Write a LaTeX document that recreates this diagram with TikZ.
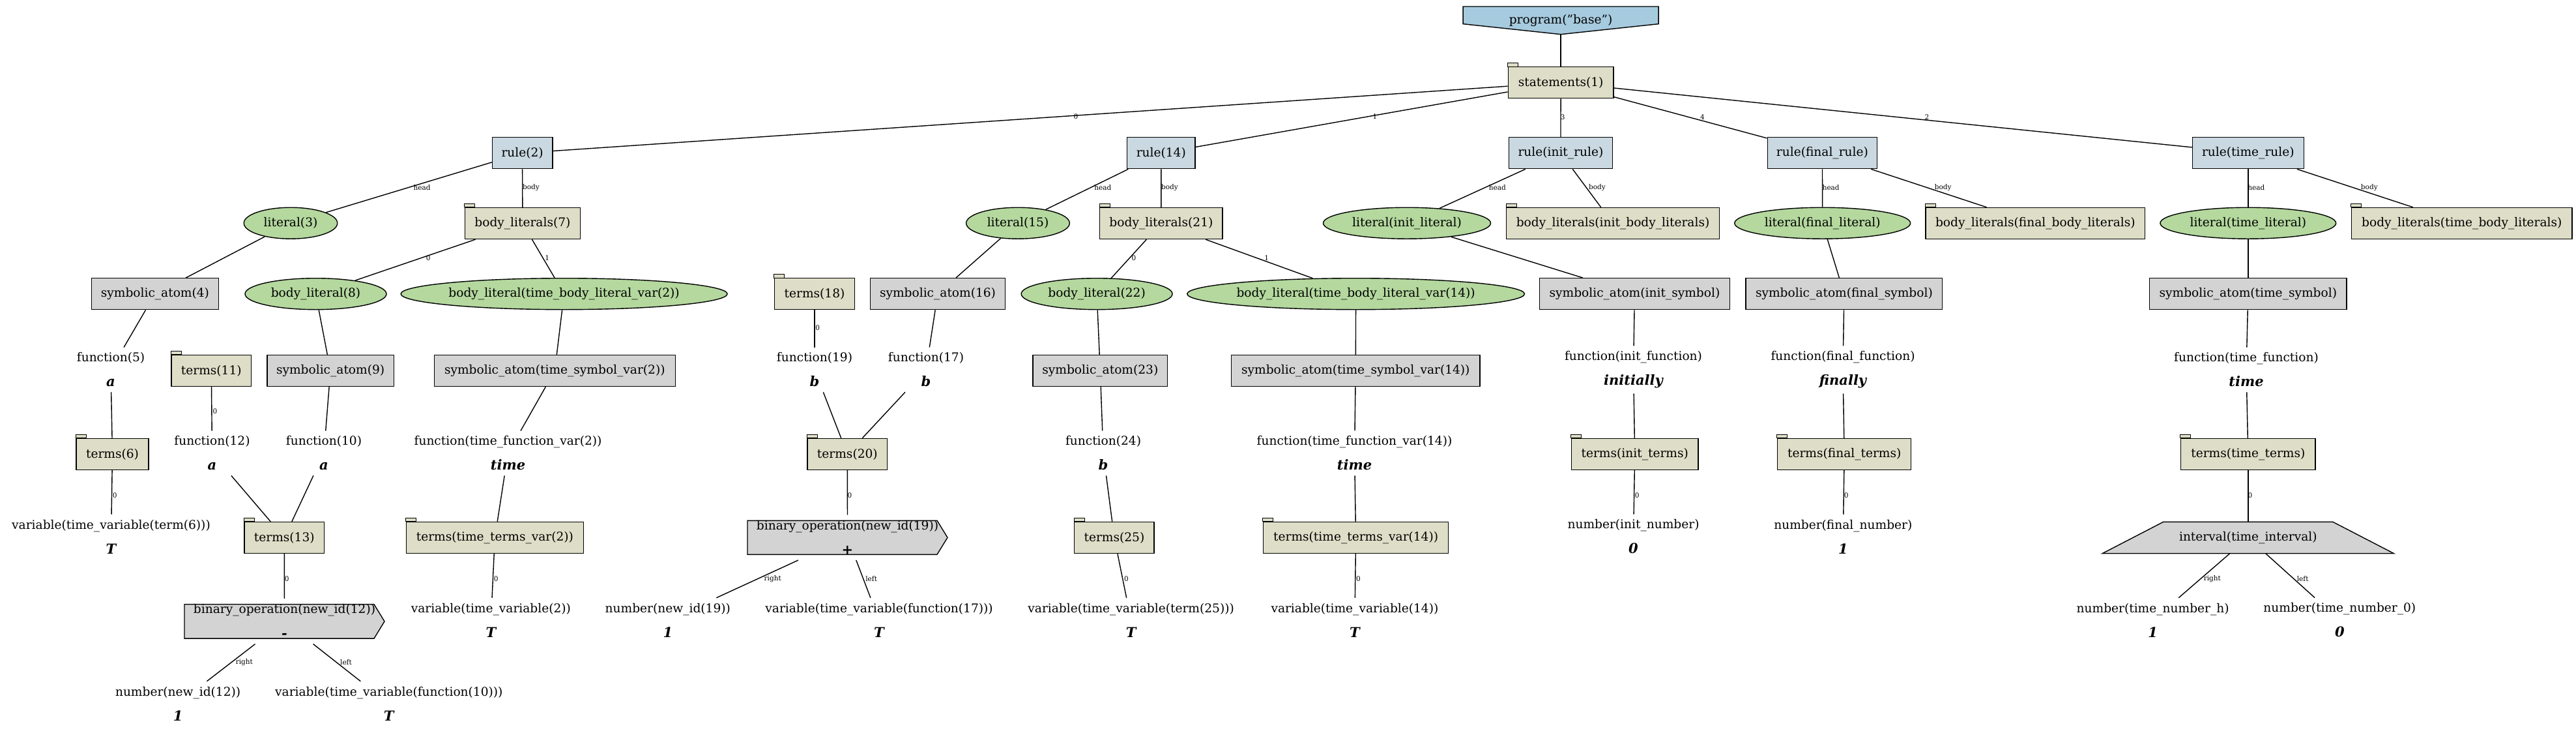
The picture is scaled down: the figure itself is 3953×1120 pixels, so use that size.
\documentclass[tikz,border=0pt]{standalone}
\usepackage{fontspec}
\setmainfont{DejaVu Serif}
\usetikzlibrary{shapes.geometric}
\definecolor{rulec}{RGB}{201,216,225}
\definecolor{litc}{RGB}{180,216,158}
\definecolor{tabc}{RGB}{222,222,200}
\definecolor{atomc}{RGB}{211,211,211}
\definecolor{progc}{RGB}{166,202,222}
\newcommand\bv[1]{{\fontsize{21}{38}\selectfont\bfseries\itshape #1}}
\tikzset{
  every node/.style={font=\fontsize{18.6}{22}\selectfont},
  box/.style={rectangle, draw, line width=1.4pt, minimum height=48pt, inner sep=0pt},
  rulebox/.style={box, fill=rulec},
  tabbox/.style={box, fill=tabc},
  atombox/.style={box, fill=atomc},
  litell/.style={ellipse, draw, line width=1.4pt, fill=litc, minimum height=48pt, inner sep=0pt},
  plain/.style={align=center, inner xsep=2pt, inner ysep=8pt, font=\fontsize{18.6}{38}\selectfont},
  lbl/.style={font=\fontsize{10.5}{12}\selectfont, inner sep=0pt},
  conn/.style={line width=1.4pt},
  shapeline/.style={line width=1.4pt},
  tabline/.style={line width=1pt, fill=tabc},
}
\begin{document}
\begin{tikzpicture}[x=1pt,y=-1pt]
\fill[white] (0,0) rectangle (3953,1120);
\useasboundingbox (0,0) rectangle (3953,1120);

% special shapes drawn first
\coordinate (progc) at (2395.1,31.35);
\draw[shapeline, fill=progc, shift={(progc)}] (-150,-21.35) -- (150,-21.35) -- (150,5.35) -- (0,21.35) -- (-150,5.35) -- cycle;
\coordinate (b12c) at (436.5,952.9);
\draw[shapeline, fill=atomc, shift={(b12c)}] (-153.5,-26.2) -- (137.5,-26.2) -- (153.5,0) -- (137.5,26.2) -- (-153.5,26.2) -- cycle;
\coordinate (b19c) at (1300.5,824.3);
\draw[shapeline, fill=atomc, shift={(b19c)}] (-153.5,-26) -- (137.5,-26) -- (153.5,0) -- (137.5,26) -- (-153.5,26) -- cycle;
\coordinate (intvc) at (3449.8,824.5);
\draw[shapeline, fill=atomc, shift={(intvc)}] (-130,-24.2) -- (130,-24.2) -- (223.6,24.2) -- (-223.6,24.2) -- cycle;

% nodes
\node[inner sep=0pt, minimum width=300pt, minimum height=42.7pt] (prog) at (progc) {program("base")};
\node[tabbox, minimum width=161.6pt] (st1) at (2395.1,126.7) {statements(1)};

\node[rulebox, minimum width=92.4pt] (rule2) at (801.6,234.7) {rule(2)};
\node[rulebox, minimum width=104.5pt] (rule14) at (1781.8,234.7) {rule(14)};
\node[rulebox, minimum width=159.2pt] (ruleinit) at (2394.9,234.7) {rule(init\_rule)};
\node[rulebox, minimum width=168.4pt] (rulefinal) at (2796.4,234.7) {rule(final\_rule)};
\node[rulebox, minimum width=170.8pt] (ruletime) at (3449.8,234.7) {rule(time\_rule)};

\node[litell, minimum width=143.5pt] (lit3) at (446,342.2) {literal(3)};
\node[tabbox, minimum width=176.8pt] (bl7) at (801.9,342.5) {body\_literals(7)};
\node[litell, minimum width=158.7pt] (lit15) at (1562,342.2) {literal(15)};
\node[tabbox, minimum width=188.3pt] (bl21) at (1781.9,342.5) {body\_literals(21)};
\node[litell, minimum width=257pt] (litinit) at (2159,342.2) {literal(init\_literal)};
\node[tabbox, minimum width=326.5pt] (blinit) at (2475,342.5) {body\_literals(init\_body\_literals)};
\node[litell, minimum width=269.9pt] (litfinal) at (2796.7,342.2) {literal(final\_literal)};
\node[tabbox, minimum width=336.4pt] (blfinal) at (3123.3,342.5) {body\_literals(final\_body\_literals)};
\node[litell, minimum width=269.8pt] (littime) at (3449.8,342.2) {literal(time\_literal)};
\node[tabbox, minimum width=338.4pt] (bltime) at (3777.8,342.5) {body\_literals(time\_body\_literals)};

\node[atombox, minimum width=194.6pt] (sa4) at (237.9,450.7) {symbolic\_atom(4)};
\node[litell, minimum width=217pt] (bl8) at (484.5,450.7) {body\_literal(8)};
\node[litell, minimum width=499.4pt] (blt2) at (865.6,450.7) {body\_literal(time\_body\_literal\_var(2))};
\node[tabbox, minimum width=123.4pt] (t18) at (1250,450.7) {terms(18)};
\node[atombox, minimum width=206.6pt] (sa16) at (1439,450.7) {symbolic\_atom(16)};
\node[litell, minimum width=231.9pt] (bl22) at (1683.1,450.7) {body\_literal(22)};
\node[litell, minimum width=514.8pt] (blt14) at (2080.6,450.7) {body\_literal(time\_body\_literal\_var(14))};
\node[atombox, minimum width=292.4pt] (sainit) at (2508.4,450.7) {symbolic\_atom(init\_symbol)};
\node[atombox, minimum width=301.5pt] (safinal) at (2829.9,450.7) {symbolic\_atom(final\_symbol)};
\node[atombox, minimum width=302.4pt] (satime) at (3449.8,450.7) {symbolic\_atom(time\_symbol)};

\node[plain] (f5) at (170,567) {function(5)\\\bv{a}};
\node[tabbox, minimum width=122.8pt] (t11) at (324.3,568.5) {terms(11)};
\node[atombox, minimum width=194.5pt] (sa9) at (507.1,568.5) {symbolic\_atom(9)};
\node[atombox, minimum width=369.8pt] (sat2) at (851.3,568.5) {symbolic\_atom(time\_symbol\_var(2))};
\node[plain] (f19) at (1250,567) {function(19)\\\bv{b}};
\node[plain] (f17) at (1421,567) {function(17)\\\bv{b}};
\node[atombox, minimum width=206.6pt] (sa23) at (1688.3,568.5) {symbolic\_atom(23)};
\node[atombox, minimum width=381.2pt] (sat14) at (2080.3,568.5) {symbolic\_atom(time\_symbol\_var(14))};
\node[plain] (finit) at (2506.5,567) {function(init\_function)\\\bv{initially}};
\node[plain] (ffinal) at (2828,567) {function(final\_function)\\\bv{finally}};
\node[plain] (ftime) at (3447,567) {function(time\_function)\\\bv{time}};

\node[tabbox, minimum width=110.8pt] (t6) at (172.5,696.5) {terms(6)};
\node[plain] (f12) at (325.5,695) {function(12)\\\bv{a}};
\node[plain] (f10) at (497,695) {function(10)\\\bv{a}};
\node[plain] (ft2) at (779.5,695) {function(time\_function\_var(2))\\\bv{time}};
\node[tabbox, minimum width=122.9pt] (t20) at (1300.3,696.5) {terms(20)};
\node[plain] (f24) at (1693,695) {function(24)\\\bv{b}};
\node[plain] (ft14) at (2078.5,695) {function(time\_function\_var(14))\\\bv{time}};
\node[tabbox, minimum width=194.9pt] (tinit) at (2508.7,696.5) {terms(init\_terms)};
\node[tabbox, minimum width=205.1pt] (tfinal) at (2830.2,696.5) {terms(final\_terms)};
\node[tabbox, minimum width=206.7pt] (ttime) at (3449.8,696.5) {terms(time\_terms)};

\node[plain] (v6) at (170.5,823) {variable(time\_variable(term(6)))\\\bv{T}};
\node[tabbox, minimum width=122.9pt] (t13) at (436.3,824.5) {terms(13)};
\node[tabbox, minimum width=272pt] (ttv2) at (759.4,824.5) {terms(time\_terms\_var(2))};
\node[plain, minimum width=307pt, minimum height=69pt] (b19) at (b19c) {binary\_operation(new\_id(19))\\\bv{+}};
\node[tabbox, minimum width=122.3pt] (t25) at (1709.9,824.5) {terms(25)};
\node[tabbox, minimum width=284.2pt] (ttv14) at (2080.6,824.5) {terms(time\_terms\_var(14))};
\node[plain] (ninit) at (2506.5,823) {number(init\_number)\\\bv{0}};
\node[plain] (nfinal) at (2828.3,823) {number(final\_number)\\\bv{1}};
\node[inner sep=0pt, minimum width=447.2pt, minimum height=48.4pt] (intv) at (intvc) {interval(time\_interval)};

\node[plain, minimum width=307pt, minimum height=69pt] (b12) at (b12c) {binary\_operation(new\_id(12))\\\bv{-}};
\node[plain] (v2) at (753.4,951) {variable(time\_variable(2))\\\bv{T}};
\node[plain] (n19) at (1024.8,951) {number(new\_id(19))\\\bv{1}};
\node[plain] (v17) at (1349,951) {variable(time\_variable(function(17)))\\\bv{T}};
\node[plain] (v25) at (1735.6,951) {variable(time\_variable(term(25)))\\\bv{T}};
\node[plain] (v14) at (2078.9,951) {variable(time\_variable(14))\\\bv{T}};
\node[plain] (nh) at (3303.6,951) {number(time\_number\_h)\\\bv{1}};
\node[plain] (n0) at (3590.3,951) {number(time\_number\_0)\\\bv{0}};

\node[plain] (n12) at (273.1,1079) {number(new\_id(12))\\\bv{1}};
\node[plain] (v10) at (596.8,1079) {variable(time\_variable(function(10)))\\\bv{T}};

% folder tabs
\foreach \n in {st1,bl7,bl21,blinit,blfinal,bltime,t18,t11,t6,t20,tinit,tfinal,ttime,t13,ttv2,t25,ttv14}
  \draw[tabline] (\n.north west) rectangle ++(16,-5.5);

% connectors
\foreach \a/\b in {prog/st1, st1/rule2, st1/rule14, st1/ruleinit, st1/rulefinal, st1/ruletime,
  rule2/lit3, rule2/bl7, lit3/sa4, sa4/f5, f5/t6, t6/v6, bl7/bl8, bl7/blt2, bl8/sa9, sa9/f10,
  f10/t13, t11/f12, f12/t13, t13/b12, b12/n12, b12/v10, blt2/sat2, sat2/ft2, ft2/ttv2, ttv2/v2,
  rule14/lit15, rule14/bl21, lit15/sa16, sa16/f17, f17/t20, t18/f19, f19/t20, t20/b19, b19/n19, b19/v17,
  bl21/bl22, bl21/blt14, bl22/sa23, sa23/f24, f24/t25, t25/v25, blt14/sat14, sat14/ft14, ft14/ttv14, ttv14/v14,
  ruleinit/litinit, ruleinit/blinit, litinit/sainit, sainit/finit, finit/tinit, tinit/ninit,
  rulefinal/litfinal, rulefinal/blfinal, litfinal/safinal, safinal/ffinal, ffinal/tfinal, tfinal/nfinal,
  ruletime/littime, ruletime/bltime, littime/satime, satime/ftime, ftime/ttime, ttime/intv, intv/nh, intv/n0}
  \draw[conn] (\a) -- (\b);

% connector labels
\node[lbl] (la1) at (1651,179) {0};
\node[lbl] (la2) at (2110,179) {1};
\node[lbl] (la3) at (2398.2,179.3) {3};
\node[lbl] (la4) at (2612.5,179.3) {4};
\node[lbl] (la5) at (2957,179.3) {2};
\node[lbl] (lb1) at (647.5,287.3) {head};
\node[lbl] (lb2) at (815,287.3) {body};
\node[lbl] (lb3) at (1692.3,287.3) {head};
\node[lbl] (lb4) at (1795,287.3) {body};
\node[lbl] (lb5) at (2297.8,287.3) {head};
\node[lbl] (lb6) at (2451,287.3) {body};
\node[lbl] (lb7) at (2809.7,287.3) {head};
\node[lbl] (lb8) at (2981.6,287.3) {body};
\node[lbl] (lb9) at (3462.3,287.3) {head};
\node[lbl] (lb10) at (3635.8,287.3) {body};
\node[lbl] (lc1) at (657.3,395.7) {0};
\node[lbl] (lc2) at (839.8,395.7) {1};
\node[lbl] (lc3) at (1740,395.7) {0};
\node[lbl] (lc4) at (1943.7,395.7) {1};
\node[lbl] (ld1) at (1254.6,502.7) {0};
\node[lbl] (ld2) at (330,631) {0};
\node[lbl] (le1) at (176.2,759.3) {0};
\node[lbl] (le2) at (1304,759.3) {0};
\node[lbl] (le3) at (2512.2,759.3) {0};
\node[lbl] (le4) at (2833.2,759.3) {0};
\node[lbl] (le5) at (3453,759.3) {0};
\node[lbl] (lf1) at (440.3,887.3) {0};
\node[lbl] (lf2) at (761.1,887.3) {0};
\node[lbl] (lf3) at (1185.7,887.3) {right};
\node[lbl] (lf4) at (1337.2,887.3) {left};
\node[lbl] (lf5) at (1728.5,887.3) {0};
\node[lbl] (lf6) at (2084.4,887.3) {0};
\node[lbl] (lf7) at (3394.8,887.3) {right};
\node[lbl] (lf8) at (3533.6,887.3) {left};
\node[lbl] (lg1) at (374.8,1015.3) {right};
\node[lbl] (lg2) at (531,1015.3) {left};
\end{tikzpicture}
\end{document}
